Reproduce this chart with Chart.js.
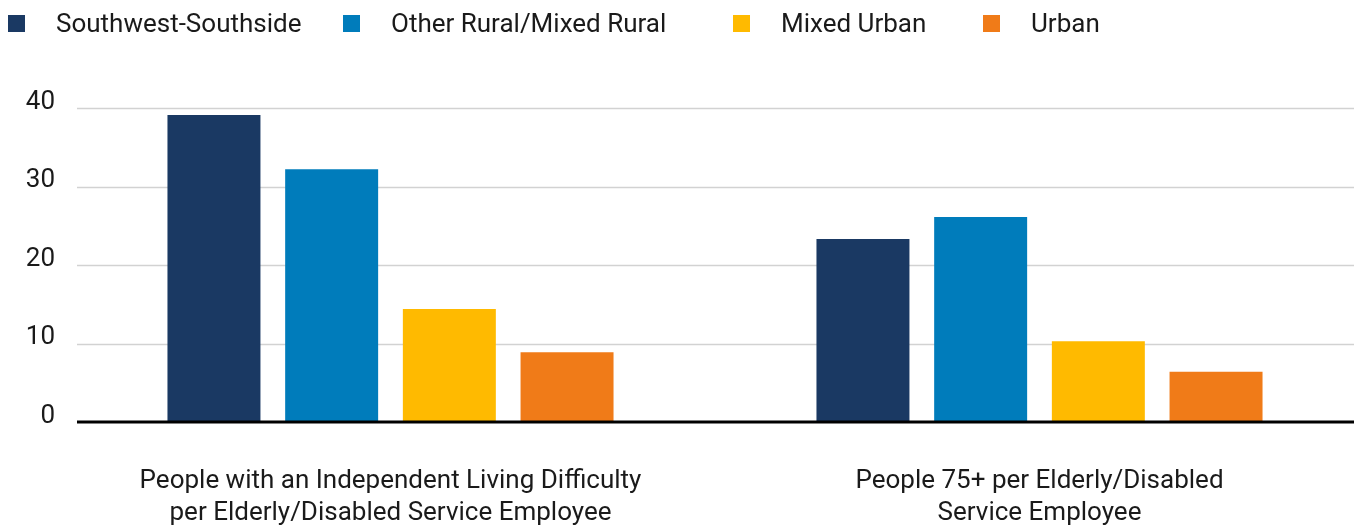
<!DOCTYPE html>
<html>
<head>
<meta charset="utf-8">
<script src="https://cdn.jsdelivr.net/npm/chart.js@4.4.1/dist/chart.umd.min.js"></script>
<style>
  html, body { margin: 0; padding: 0; background: #fff; overflow: hidden; }
  .legend-item {
    position: absolute; top: 8px; z-index: 2; height: 30px;
    display: flex; align-items: center; white-space: nowrap;
    font-family: Roboto, sans-serif; font-size: 26px; color: #1a1a1a;
  }
  .legend-box { width: 17px; height: 17px; margin-right: 31px; }
  .chart-wrap { position: absolute; left: 0; top: 0; width: 1364px; height: 527px; }
</style>
</head>
<body>
<div class="legend js-legend"></div>
<div class="chart-wrap"><canvas class="js-chart"></canvas></div>
<script>
// カテゴリと系列
const categories = [
  ['People with an Independent Living Difficulty', 'per Elderly/Disabled Service Employee'],
  ['People 75+ per Elderly/Disabled', 'Service Employee']
];
const seriesNames = ['Southwest-Southside', 'Other Rural/Mixed Rural', 'Mixed Urban', 'Urban'];
const seriesColors = ['#1a3963', '#007cbb', '#ffba00', '#f07b18'];

// 値
const southwestValues = [39.1, 23.3];
const otherRuralValues = [32.2, 26.1];
const mixedUrbanValues = [14.4, 10.3];
const urbanValues = [8.9, 6.4];
const seriesValues = [southwestValues, otherRuralValues, mixedUrbanValues, urbanValues];

// Y軸
const yTicks = [0, 10, 20, 30, 40];

const FONT = { family: 'Roboto, sans-serif', size: 26 };
const GRID_START_X = 77;
const LEGEND_X = [8, 343, 733, 983];

// 凡例（HTML）
function buildLegend() {
  const $legend = document.querySelector('.js-legend');
  seriesNames.forEach((name, i) => {
    const item = document.createElement('div');
    item.className = 'legend-item';
    item.style.left = LEGEND_X[i] + 'px';
    const box = document.createElement('span');
    box.className = 'legend-box';
    box.style.background = seriesColors[i];
    const text = document.createElement('span');
    text.textContent = name;
    item.appendChild(box);
    item.appendChild(text);
    $legend.appendChild(item);
  });
}

// 横グリッド線と0の基準線
const gridPlugin = {
  id: 'gridLines',
  beforeDatasetsDraw(chart) {
    const { ctx, scales: { y } } = chart;
    ctx.save();
    ctx.strokeStyle = '#d2d2d2';
    ctx.lineWidth = 1.5;
    yTicks.filter(v => v !== 0).forEach(v => {
      const py = Math.round(y.getPixelForValue(v)) + 0.5;
      ctx.beginPath();
      ctx.moveTo(GRID_START_X, py);
      ctx.lineTo(chart.width, py);
      ctx.stroke();
    });
    ctx.restore();
  },
  afterDatasetsDraw(chart) {
    const { ctx, scales: { y } } = chart;
    const py = y.getPixelForValue(0);
    ctx.save();
    ctx.strokeStyle = '#000';
    ctx.lineWidth = 3;
    ctx.beginPath();
    ctx.moveTo(GRID_START_X, py);
    ctx.lineTo(chart.width, py);
    ctx.stroke();
    ctx.restore();
  }
};

window.addEventListener('DOMContentLoaded', () => {
  buildLegend();

  const $chart = document.querySelector('.js-chart');
  new Chart($chart, {
    type: 'bar',
    data: {
      labels: categories,
      datasets: seriesNames.map((name, i) => ({
        label: name,
        data: seriesValues[i],
        backgroundColor: seriesColors[i],
        borderWidth: 0,
        categoryPercentage: 0.7254,
        barPercentage: 0.79
      }))
    },
    options: {
      responsive: true,
      maintainAspectRatio: false,
      animation: { duration: 0 },
      layout: { padding: { top: 108, left: 0, right: 0, bottom: 0 } },
      plugins: {
        legend: { display: false },
        tooltip: { enabled: false }
      },
      scales: {
        x: {
          grid: { display: false, drawTicks: false },
          border: { display: false },
          ticks: {
            color: '#1a1a1a',
            font: { ...FONT, lineHeight: 1.23 },
            padding: 44,
            maxRotation: 0,
            autoSkip: false
          },
          afterFit: (scale) => { scale.height = 105; }
        },
        y: {
          min: 0,
          max: 40,
          grid: { display: false, drawTicks: false },
          border: { display: false },
          afterBuildTicks: (scale) => { scale.ticks = yTicks.map(v => ({ value: v })); },
          ticks: {
            color: '#1a1a1a',
            font: FONT,
            padding: 11,
            labelOffset: -6
          },
          afterFit: (scale) => { scale.width = 66; }
        }
      }
    },
    plugins: [gridPlugin]
  });
});
</script>
</body>
</html>
